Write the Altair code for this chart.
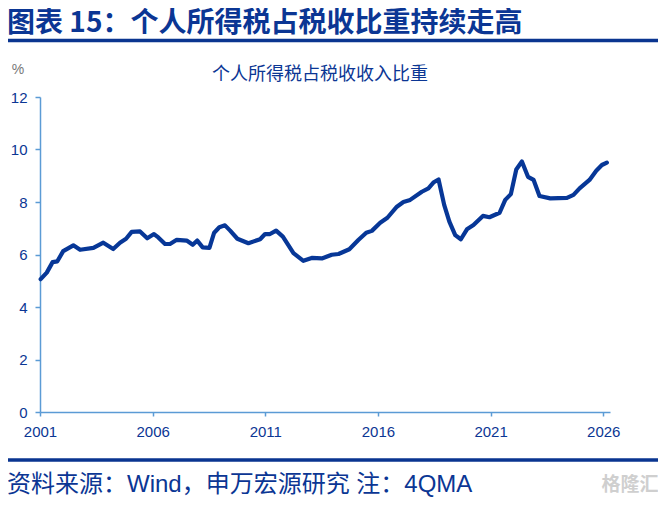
import altair as alt
import pandas as pd

# decimal-year positions and values (%)
years = [2001.03, 2001.30, 2001.56, 2001.77, 2002.03, 2002.48, 2002.78, 2003.37, 2003.81, 2004.25,
         2004.55, 2004.82, 2005.07, 2005.44, 2005.76, 2006.06, 2006.25, 2006.55, 2006.77, 2007.07,
         2007.51, 2007.78, 2007.98, 2008.22, 2008.52, 2008.73, 2008.96, 2009.21, 2009.44, 2009.76,
         2010.25, 2010.77, 2010.99, 2011.21, 2011.48, 2011.78, 2012.25, 2012.69, 2013.06, 2013.51,
         2013.95, 2014.25, 2014.73, 2015.13, 2015.48, 2015.73, 2016.10, 2016.42, 2016.84, 2017.13,
         2017.43, 2017.95, 2018.24, 2018.46, 2018.69, 2018.94, 2019.17, 2019.43, 2019.68, 2019.95,
         2020.24, 2020.66, 2020.95, 2021.40, 2021.65, 2021.90, 2022.14, 2022.39, 2022.66, 2022.91,
         2023.17, 2023.65, 2024.39, 2024.68, 2024.95, 2025.39, 2025.69, 2025.94, 2026.16]
values = [5.06, 5.31, 5.71, 5.74, 6.13, 6.35, 6.18, 6.25, 6.45, 6.21,
          6.45, 6.60, 6.86, 6.88, 6.62, 6.78, 6.65, 6.40, 6.40, 6.56,
          6.53, 6.37, 6.53, 6.27, 6.25, 6.83, 7.04, 7.11, 6.91, 6.60,
          6.43, 6.58, 6.78, 6.78, 6.91, 6.68, 6.05, 5.76, 5.87, 5.85,
          5.99, 6.02, 6.20, 6.55, 6.83, 6.90, 7.21, 7.40, 7.82, 8.00,
          8.08, 8.39, 8.52, 8.74, 8.86, 7.89, 7.25, 6.74, 6.58, 6.96,
          7.12, 7.47, 7.42, 7.59, 8.08, 8.30, 9.24, 9.54, 8.96, 8.84,
          8.23, 8.14, 8.16, 8.27, 8.52, 8.84, 9.19, 9.41, 9.50]
x_ticks = [2001, 2006, 2011, 2016, 2021, 2026]
y_ticks = [0, 2, 4, 6, 8, 10, 12]

header = "图表 15：个人所得税占税收比重持续走高"
subtitle = "个人所得税占税收收入比重"
unit = "%"
footer = "资料来源：Wind，申万宏源研究 注：4QMA"
watermark = "格隆汇"

DARK = "#0b3694"
AXIS = "#5b9bd5"
CJK = "Noto Sans CJK SC"
MIX = "Liberation Sans, Noto Sans CJK SC"
NUM = "Liberation Sans"

df = pd.DataFrame({"year": years, "value": values})

line = alt.Chart(df).mark_line(
    color="#073797", strokeWidth=4.2, strokeJoin="round", strokeCap="round"
).encode(
    x=alt.X("year:Q", scale=alt.Scale(domain=[2001, 2026.3], nice=False, zero=False),
            axis=alt.Axis(values=x_ticks, format="d", title=None, grid=False,
                          domainColor=AXIS, domainWidth=1.5, tickColor=AXIS, tickSize=4,
                          tickWidth=1.5, labelColor=DARK, labelFont=NUM, labelFontSize=15,
                          labelPadding=8, labelFlush=False)),
    y=alt.Y("value:Q", scale=alt.Scale(domain=[0, 12], nice=False),
            axis=alt.Axis(values=y_ticks, title=None, grid=False,
                          domainColor=AXIS, domainWidth=1.5, tickColor=AXIS, tickSize=5,
                          tickWidth=1.5, labelColor=DARK, labelFont=NUM, labelFontSize=15,
                          labelPadding=8)),
)


def txt(s, x, y, size, color, align="left", weight="normal", font=CJK):
    return alt.Chart(pd.DataFrame({"t": [s]})).mark_text(
        align=align, baseline="middle", fontSize=size, color=color, fontWeight=weight, font=font
    ).encode(x=alt.value(x), y=alt.value(y), text="t:N")


def rule(x1, x2, y, w, color):
    return alt.Chart(pd.DataFrame({"a": [0]})).mark_rule(color=color, strokeWidth=w).encode(
        x=alt.value(x1), x2=alt.value(x2), y=alt.value(y))


chart = alt.layer(
    line,
    txt(header, -33, -73.5, 28, DARK, weight="bold"),
    rule(-33, 620, -56.5, 3.5, "#0a3590"),
    txt(unit, -22, -27, 14, "#777777", align="center", font=NUM),
    txt(subtitle, 280, -22, 18, DARK, align="center"),
    rule(-33, 620, 363, 3.5, "#0a3590"),
    txt(footer, -33, 388, 24, DARK, font=MIX),
    txt(watermark, 590, 388, 19, "#cfcfcf", align="center", weight="bold"),
).properties(
    width=570, height=315,
    autosize="none",
    padding={"left": 32, "top": 89, "right": 48, "bottom": 85},
).configure_view(stroke=None)

chart.save("out.html", embed_options={"renderer": "svg", "actions": False})
